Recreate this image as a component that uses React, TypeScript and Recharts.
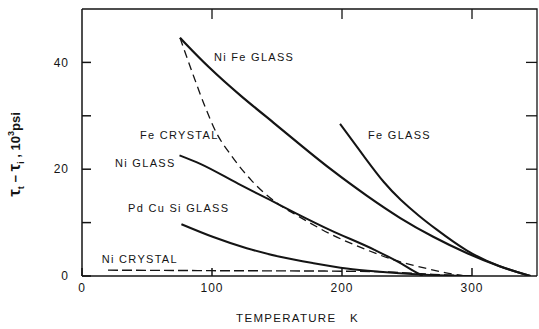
import { LineChart, Line, XAxis, YAxis, ReferenceDot } from "recharts";

// temperature (K) vs flow-stress difference (10^3 psi), one pair of arrays per curve
const niFeTemp = [75.4, 97, 123, 148.5, 167.7, 193, 219, 245, 270, 296, 321.5, 345];
const niFeTau = [44.6, 39.1, 33.5, 28.5, 24.6, 19.6, 15.0, 10.7, 7.3, 4.2, 1.7, 0];

const feCrystalTemp = [75.4, 85, 95, 103, 115, 130, 152, 165, 190, 219, 240, 265, 280, 295];
const feCrystalTau = [44.6, 38, 31.5, 27, 22.5, 18, 13.3, 11.4, 8.0, 4.9, 3.0, 1.4, 0.6, 0];

const feGlassTemp = [198.5, 219, 232, 245, 260, 270, 296, 321, 345];
const feGlassTau = [28.5, 21.7, 17.5, 14.2, 11.1, 9.2, 4.5, 1.7, 0];

const niGlassTemp = [75, 91, 120, 145, 165, 191, 225, 245, 256, 262];
const niGlassTau = [22.6, 21.0, 17.3, 14.2, 11.7, 8.6, 4.9, 2.4, 0.8, 0];

const pdCuSiTemp = [76.5, 101, 126.7, 152.3, 178, 203.6, 229, 260, 300];
const pdCuSiTau = [9.7, 7.3, 5.2, 3.6, 2.4, 1.4, 0.8, 0.3, 0];

const niCrystalTemp = [20, 100, 200, 240, 270, 300];
const niCrystalTau = [1.1, 1.0, 0.9, 0.7, 0.3, 0];

const curveNames = ["Ni Fe GLASS", "Fe GLASS", "Fe CRYSTAL", "Ni GLASS", "Pd Cu Si GLASS", "Ni CRYSTAL"];
const nameTemps = [101.5, 220, 44.6, 25.4, 35.4, 15.2];
const nameTaus = [41, 26.4, 26.4, 21.1, 12.7, 3.2];

const X_MAX = 350;
const Y_MAX = 50;
const xTicks = [0, 100, 200, 300];
const yTicks = [0, 10, 20, 30, 40];
const topTicks = [100, 200, 300];
const rightTicks = [10, 20, 30, 40];

// chart box
const W = 539;
const H = 329;
const MARGIN = { top: 9, right: 2, left: 0, bottom: 0 };
const Y_AXIS_W = 82;
const X_AXIS_H = 53;
const PLOT_L = MARGIN.left + Y_AXIS_W;
const PLOT_T = MARGIN.top;
const PLOT_R = W - MARGIN.right;
const PLOT_B = H - MARGIN.bottom - X_AXIS_H;

const toPoints = (temps: number[], taus: number[]) =>
  temps.map((t, i) => ({ t, tau: taus[i] }));

const INK = "#141414";
const FONT = "'Liberation Sans', Arial, sans-serif";

const curveText = (name: string) => (p: any) => (
  <text
    x={p.cx}
    y={p.cy}
    dy="0.35em"
    fill={INK}
    fontFamily={FONT}
    fontSize={11}
    letterSpacing={1.3}
  >
    {name}
  </text>
);

const yTitle = (p: any) => {
  const vb = p.viewBox;
  const cx = vb.x + 20;
  const cy = vb.y + vb.height / 2 + 12;
  return (
    <text
      transform={`translate(${cx},${cy}) rotate(-90)`}
      textAnchor="middle"
      fill={INK}
      fontFamily={FONT}
      fontSize={13}
      fontWeight="bold"
    >
      <tspan fontSize={17}>τ</tspan>
      <tspan fontSize={9} dy={4}>t</tspan>
      <tspan dy={-4}> − </tspan>
      <tspan fontSize={17}>τ</tspan>
      <tspan fontSize={9} dy={4}>i</tspan>
      <tspan dy={-4}> ,  10</tspan>
      <tspan fontSize={9} dy={-6}>3</tspan>
      <tspan dy={6}>psi</tspan>
    </text>
  );
};

const xTitle = (p: any) => {
  const vb = p.viewBox;
  return (
    <text
      x={vb.x + vb.width / 2 - 12}
      y={vb.y + 46}
      textAnchor="middle"
      fill={INK}
      fontFamily={FONT}
      fontSize={11.5}
      letterSpacing={1.3}
      style={{ whiteSpace: "pre" }}
    >
      {"TEMPERATURE   K"}
    </text>
  );
};

const tickStyle = { fill: INK, fontFamily: FONT, fontSize: 12, letterSpacing: 1 };

// top and right sides of the box with their inward ticks
function Frame() {
  const px = (t: number) => PLOT_L + ((PLOT_R - PLOT_L) * t) / X_MAX;
  const py = (v: number) => PLOT_B - ((PLOT_B - PLOT_T) * v) / Y_MAX;
  return (
    <svg
      width={W}
      height={H}
      style={{ position: "absolute", left: 0, top: 0, pointerEvents: "none" }}
    >
      <g stroke={INK} strokeWidth={1.3} fill="none">
        <polyline points={`${PLOT_L},${PLOT_T} ${PLOT_R},${PLOT_T} ${PLOT_R},${PLOT_B}`} />
        {topTicks.map((t) => (
          <line key={`t${t}`} x1={px(t)} x2={px(t)} y1={PLOT_T} y2={PLOT_T + 10} />
        ))}
        {rightTicks.map((v) => (
          <line key={`r${v}`} x1={PLOT_R} x2={PLOT_R - 11} y1={py(v)} y2={py(v)} />
        ))}
      </g>
    </svg>
  );
}

export default function App() {
  const series = [
    { key: "nife", pts: toPoints(niFeTemp, niFeTau), dash: undefined, w: 2.2, curve: "basis" },
    { key: "fecr", pts: toPoints(feCrystalTemp, feCrystalTau), dash: "8 5", w: 1.3, curve: "monotone" },
    { key: "fegl", pts: toPoints(feGlassTemp, feGlassTau), dash: undefined, w: 2, curve: "basis" },
    { key: "nigl", pts: toPoints(niGlassTemp, niGlassTau), dash: undefined, w: 2, curve: "monotone" },
    { key: "pdcusi", pts: toPoints(pdCuSiTemp, pdCuSiTau), dash: undefined, w: 2, curve: "monotone" },
    { key: "nicr", pts: toPoints(niCrystalTemp, niCrystalTau), dash: "10 4", w: 1.4, curve: "monotone" },
  ];

  return (
    <div style={{ position: "absolute", left: 0, top: 0, width: W, height: H, background: "#fff" }}>
      <LineChart width={W} height={H} margin={MARGIN}>
        <XAxis
          dataKey="t"
          type="number"
          domain={[0, X_MAX]}
          ticks={xTicks}
          allowDataOverflow
          height={X_AXIS_H}
          stroke={INK}
          strokeWidth={1.5}
          tickSize={-8}
          tickMargin={15}
          tick={tickStyle}
          label={xTitle}
        />
        <YAxis
          dataKey="tau"
          type="number"
          domain={[0, Y_MAX]}
          ticks={yTicks}
          allowDataOverflow
          width={Y_AXIS_W}
          stroke={INK}
          strokeWidth={1.5}
          tickSize={-9}
          tickMargin={22}
          tick={tickStyle}
          tickFormatter={(v: number) => (v % 20 === 0 ? String(v) : "")}
          label={yTitle}
        />
        {series.map((s) => (
          <Line
            key={s.key}
            data={s.pts}
            dataKey="tau"
            type={s.curve as any}
            stroke={INK}
            strokeWidth={s.w}
            strokeDasharray={s.dash}
            dot={false}
            isAnimationActive={false}
          />
        ))}
        {curveNames.map((name, i) => (
          <ReferenceDot
            key={name}
            x={nameTemps[i]}
            y={nameTaus[i]}
            r={0}
            shape={curveText(name)}
          />
        ))}
      </LineChart>
      <Frame />
    </div>
  );
}
